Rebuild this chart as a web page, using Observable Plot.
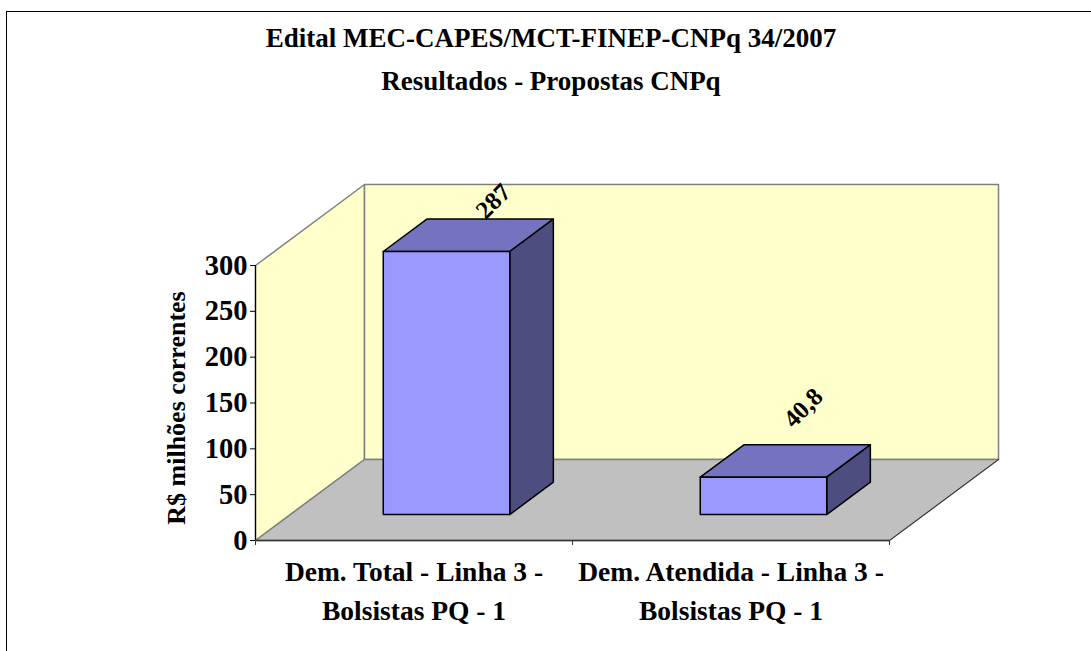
<!DOCTYPE html>
<html>
<head>
<meta charset="utf-8">
<script src="https://cdn.jsdelivr.net/npm/d3@7"></script>
<script src="https://cdn.jsdelivr.net/npm/@observablehq/plot@0.6"></script>
<style>
html,body{margin:0;padding:0;background:#fff;overflow:hidden}
#page{position:relative;width:1091px;height:651px;overflow:hidden;font-family:"Liberation Serif",serif;font-weight:bold;color:#000}
#frame{position:absolute;left:6px;top:11px;width:1200px;height:800px;border:1.5px solid #000;box-sizing:border-box}
.t{position:absolute;left:0;width:1102px;text-align:center;font-size:27px;line-height:44px;white-space:nowrap}
svg{position:absolute;left:0;top:0}
</style>
</head>
<body>
<div id="page"><div id="frame"></div>
<div class="t" style="top:16px">Edital MEC-CAPES/MCT-FINEP-CNPq 34/2007</div>
<div class="t" style="top:59px">Resultados - Propostas CNPq</div>
</div>
<script>
const categories = ["Dem. Total - Linha 3 -\nBolsistas PQ - 1", "Dem. Atendida - Linha 3 -\nBolsistas PQ - 1"];
const values = [287, 40.8];
const valueLabels = ["287", "40,8"];
const yTicks = [0, 50, 100, 150, 200, 250, 300];
const xTicks = [0, 1, 2];
const yTitle = "R$ milhões correntes";
const yMax = 300;

// Oblique projection: x in category units, v in value units, z depth 0 (front) .. 1 (back wall)
const depthX = 109 / 317, depthV = 81 * 300 / 275;
const P = (x, v, z) => ({px: x + z * depthX, pv: v + z * depthV});
const barLeft = 0.293, barRight = 0.692, zFront = 0.32, zBack = 0.72;

const poly = (pts, fill, stroke, strokeWidth) => Plot.line(
  [...pts, pts[0]].map(([x, v, z]) => P(x, v, z)),
  {x: "px", y: "pv", fill, stroke, strokeWidth, curve: "linear", strokeLinejoin: "round"}
);

const n = categories.length;
const marks = [
  // walls and floor
  poly([[0,0,0],[0,0,1],[0,yMax,1],[0,yMax,0]], "#FFFFCC", "#808080", 1.5),
  poly([[0,0,1],[n,0,1],[n,yMax,1],[0,yMax,1]], "#FFFFCC", "#808080", 1.5),
  poly([[0,0,0],[n,0,0],[n,0,1],[0,0,1]], "#C0C0C0", "#808080", 1.5),
  Plot.line([P(n,0,0),P(n,0,1)], {x:"px", y:"pv", stroke:"#333", strokeWidth:1})
];
values.forEach((v, i) => {
  const a = i + barLeft, b = i + barRight;
  marks.push(
    poly([[a,v,zFront],[b,v,zFront],[b,v,zBack],[a,v,zBack]], "#7373BF", "#000", 1.5),
    poly([[b,0,zFront],[b,0,zBack],[b,v,zBack],[b,v,zFront]], "#4D4D80", "#000", 1.5),
    poly([[a,0,zFront],[b,0,zFront],[b,v,zFront],[a,v,zFront]], "#9999FF", "#000", 1.5)
  );
});
const lab = (i, dx, dy) => Plot.text([P(i + (barLeft + barRight) / 2, values[i], (zFront + zBack) / 2)], {
  x: "px", y: "pv", text: () => valueLabels[i], rotate: -45, fontSize: 25, fontWeight: "bold", dx, dy, fill: "#000"
});
marks.push(
  lab(0, 25, -34),
  lab(1, 18, -53),
  Plot.ruleX([0], {stroke: "#000", strokeWidth: 1.2}),
  Plot.ruleY([0], {stroke: "#333", strokeWidth: 1.5}),
  Plot.axisY({ticks: yTicks, tickSize: 5, tickPadding: 3, fontSize: 28.5, fontWeight: "bold", label: null, tickFormat: d => d, stroke: "#000"}),
  Plot.axisX({ticks: xTicks, tickSize: 5, tickFormat: () => "", label: null, stroke: "#333"}),
  Plot.text(categories, {x: (_, i) => i + 0.5, y: () => 0, text: d => d, dy: 13, lineAnchor: "top", fontSize: 27.5, fontWeight: "bold", lineHeight: 1.42, fill: "#000"}),
  Plot.text([yTitle], {x: () => 0, y: () => 150, text: d => d, rotate: -90, dx: -79, dy: 5, fontSize: 26, fontWeight: "bold", fill: "#000"})
);

const chart = Plot.plot({
  width: 1091, height: 651,
  marginLeft: 255, marginRight: 202, marginTop: 265, marginBottom: 111,
  x: {domain: [0, n], axis: null},
  y: {domain: [0, yMax], axis: null},
  style: {fontFamily: '"Liberation Serif", serif', background: "transparent", color: "#000", overflow: "visible"},
  marks
});
document.getElementById("page").appendChild(chart);
</script>
</body>
</html>
